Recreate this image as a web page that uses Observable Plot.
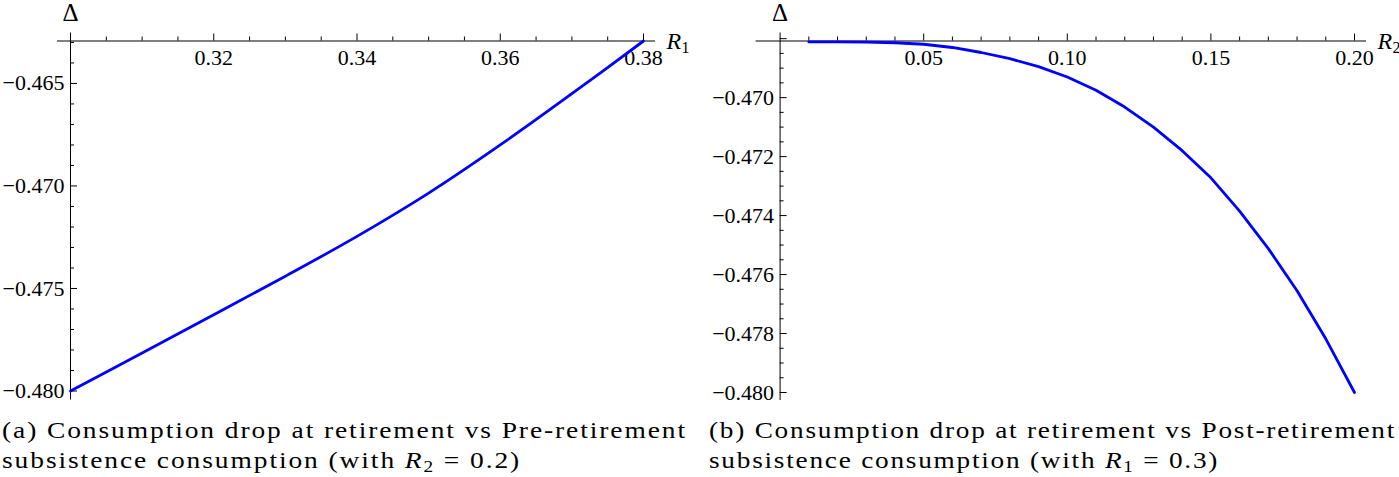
<!DOCTYPE html>
<html><head><meta charset="utf-8">
<script src="https://cdn.jsdelivr.net/npm/d3@7"></script>
<script src="https://cdn.jsdelivr.net/npm/@observablehq/plot@0.6"></script>
<style>
body{margin:0;background:#fff;}
#root{position:relative;width:1399px;height:477px;overflow:hidden;background:#fff;}
.panel{position:absolute;top:0;}
.cap{position:absolute;font-family:"Liberation Serif",serif;font-size:24px;line-height:30px;color:#000;white-space:nowrap;transform-origin:0 0;}
.cap .ln{display:block;}
.cap sub{font-size:70%;line-height:0;vertical-align:-0.25em;}
</style></head><body><div id="root"></div>
<script>
// ---------- Panel (a): Delta vs R1 (R2 = 0.2) ----------
const r1Values = [0.30, 0.31, 0.32, 0.33, 0.34, 0.35, 0.36, 0.37, 0.38];
const deltaA   = [-0.48000, -0.47815, -0.47628, -0.47440, -0.47246, -0.47035, -0.46800, -0.46550, -0.46293];
const xDomainA = [0.30, 0.38];
const yDomainA = [-0.480, -0.46293];
const xMajorA  = [0.32, 0.34, 0.36, 0.38];
const xMinorA  = [0.305, 0.31, 0.315, 0.325, 0.33, 0.335, 0.345, 0.35, 0.355, 0.365, 0.37, 0.375];
const yMajorA  = [-0.480, -0.475, -0.470, -0.465];
const yMinorA  = [-0.479, -0.478, -0.477, -0.476, -0.474, -0.473, -0.472, -0.471, -0.469, -0.468, -0.467, -0.466, -0.464, -0.463];

// ---------- Panel (b): Delta vs R2 (R1 = 0.3) ----------
const r2Values = [0.01, 0.02, 0.03, 0.04, 0.05, 0.06, 0.07, 0.08, 0.09, 0.10, 0.11, 0.12, 0.13, 0.14, 0.15, 0.16, 0.17, 0.18, 0.19, 0.20];
const deltaB   = [-0.46811, -0.46811, -0.46812, -0.46814, -0.46819, -0.46830, -0.46847, -0.46868, -0.46895, -0.46930,
                  -0.46975, -0.47032, -0.47100, -0.47180, -0.47272, -0.47385, -0.47512, -0.47655, -0.47818, -0.48000];
const xDomainB = [0, 0.20];
const yDomainB = [-0.480, -0.46808];
const xMajorB  = [0.05, 0.10, 0.15, 0.20];
const xMinorB  = [0.01, 0.02, 0.03, 0.04, 0.06, 0.07, 0.08, 0.09, 0.11, 0.12, 0.13, 0.14, 0.16, 0.17, 0.18, 0.19];
const yMajorB  = [-0.480, -0.478, -0.476, -0.474, -0.472, -0.470, -0.468];
const yLabelB  = [-0.480, -0.478, -0.476, -0.474, -0.472, -0.470];
const yMinorB  = [-0.4795, -0.4790, -0.4785, -0.4775, -0.4770, -0.4765, -0.4755, -0.4750, -0.4745,
                  -0.4735, -0.4730, -0.4725, -0.4715, -0.4710, -0.4705, -0.4695, -0.4690, -0.4685];

const yAxisLabel = "Δ";
const captionA = ["(a) Consumption drop at retirement vs Pre-retirement", "subsistence consumption (with ", "R", "2", " = 0.2)"];
const captionB = ["(b) Consumption drop at retirement vs Post-retirement", "subsistence consumption (with ", "R", "1", " = 0.3)"];

const FONT = "Liberation Serif";
const fmtX = d3.format(".2f"), fmtY = d3.format(".3f");

function panel(o) {
  const x0 = o.xDomain[0], x1 = o.xDomain[1], yTop = o.yDomain[1];
  const pts = o.xs.map((x, i) => ({x, y: o.ys[i]}));
  const anchor = [{x: x0, y: yTop}], end = [{x: x1, y: yTop}];
  return Plot.plot({
    width: o.width, height: 410,
    marginLeft: o.ml, marginRight: o.mr, marginTop: 40.5, marginBottom: o.mb,
    x: {domain: o.xDomain, axis: null},
    y: {domain: o.yDomain, axis: null},
    style: {fontFamily: FONT, background: "white", overflow: "visible", color: "black"},
    marks: [
      Plot.ruleY([yTop], {stroke: "black", strokeWidth: 1, insetLeft: -o.axL, insetRight: -12}),
      Plot.ruleX([x0], {stroke: "black", strokeWidth: 1, insetTop: -8, insetBottom: -o.axB}),
      Plot.ruleX(o.xMinor, {x: d => d, y1: yTop, y2: yTop, insetTop: -4, stroke: "black"}),
      Plot.ruleX(o.xMajor, {x: d => d, y1: yTop, y2: yTop, insetTop: -7, stroke: "black"}),
      Plot.ruleY(o.yMinor, {y: d => d, x1: x0, x2: x0, insetRight: -4, stroke: "black"}),
      Plot.ruleY(o.yMajor, {y: d => d, x1: x0, x2: x0, insetRight: -7, stroke: "black"}),
      Plot.text(o.xMajor, {x: d => d, y: yTop, dy: 17, text: d => fmtX(d), fontSize: 22, fill: "black"}),
      Plot.text(o.yLabel, {x: x0, y: d => d, dx: -6, textAnchor: "end", text: d => fmtY(d), fontSize: 22, fill: "black"}),
      Plot.line(pts, {x: "x", y: "y", stroke: "#0000ff", strokeWidth: 2.8, curve: o.curve}),
      Plot.text(anchor, {x: "x", y: "y", text: () => yAxisLabel, dy: -28, fontSize: 25, fill: "black"}),
      Plot.text(end, {x: "x", y: "y", text: () => "R", dx: 23, textAnchor: "start", fontStyle: "italic", fontSize: 24, fill: "black"}),
      Plot.text(end, {x: "x", y: "y", text: () => o.sub, dx: 38, dy: 7, textAnchor: "start", fontSize: 16, fill: "black"})
    ]
  });
}

const root = document.getElementById("root");
const pa = panel({xs: r1Values, ys: deltaA, xDomain: xDomainA, yDomain: yDomainA, xMajor: xMajorA, xMinor: xMinorA,
  yMajor: yMajorA, yLabel: yMajorA, yMinor: yMinorA, width: 700, ml: 70, mr: 57, mb: 19.5, axL: 13, axB: 9,
  curve: "catmull-rom", sub: "1"});
const pb = panel({xs: r2Values, ys: deltaB, xDomain: xDomainB, yDomain: yDomainB, xMajor: xMajorB, xMinor: xMinorB,
  yMajor: yMajorB, yLabel: yLabelB, yMinor: yMinorB, width: 699, ml: 79.6, mr: 45, mb: 18, axL: 24, axB: 8,
  curve: "linear", sub: "2"});
const wa = document.createElement("div"); wa.className = "panel"; wa.style.left = "0px"; wa.appendChild(pa);
const wb = document.createElement("div"); wb.className = "panel"; wb.style.left = "700px"; wb.appendChild(pb);
root.appendChild(wa); root.appendChild(wb);

function caption(parts, left, target) {
  const c = document.createElement("div");
  c.className = "cap";
  c.style.left = left + "px";
  c.style.top = "415px";
  const l1 = document.createElement("span"); l1.className = "ln"; l1.textContent = parts[0];
  const l2 = document.createElement("span"); l2.className = "ln";
  l2.append(parts[1]);
  const it = document.createElement("i"); it.textContent = parts[2]; l2.append(it);
  const sb = document.createElement("sub"); sb.textContent = parts[3]; l2.append(sb);
  l2.append(parts[4]);
  c.append(l1, l2);
  root.appendChild(c);
  const meas = document.createElement("span"); meas.textContent = parts[0];
  meas.style.cssText = "font-family:'Liberation Serif';font-size:24px;white-space:nowrap;position:absolute;visibility:hidden;";
  document.body.appendChild(meas);
  const w = meas.getBoundingClientRect().width;
  meas.remove();
  // share the extra width between letter spacing and a mild horizontal stretch
  const n = parts[0].length;
  const ls = Math.max(0, (target - w) * 0.5 / n);
  c.style.letterSpacing = ls + "px";
  const w2 = w + ls * n;
  c.style.transform = `scaleX(${target / w2})`;
}
caption(captionA, 2, 685);
caption(captionB, 709, 687);
</script>
</body></html>
